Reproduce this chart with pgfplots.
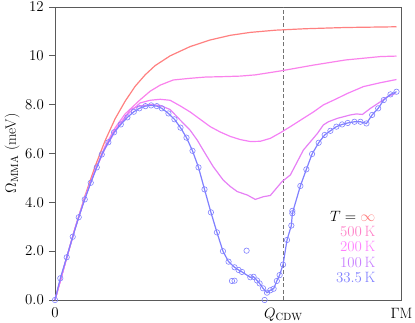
\RequirePackage{fix-cm}
\documentclass[border=0pt]{standalone}
\usepackage{fontspec}
\usepackage{pgfplots}
\pgfplotsset{compat=1.18}
\definecolor{cinf}{RGB}{255,128,128}
\definecolor{cfive}{RGB}{255,128,200}
\definecolor{ctwo}{RGB}{255,128,255}
\definecolor{cone}{RGB}{200,128,255}
\definecolor{lfive}{RGB}{250,130,235}
\definecolor{ltwo}{RGB}{245,128,245}
\definecolor{lone}{RGB}{230,128,245}
\definecolor{cblue}{RGB}{128,128,255}
\definecolor{spine}{RGB}{90,90,90}
\pgfplotstableread{
x y
0 0
5.3 0.89
11.7 1.75
17.7 2.59
23.7 3.39
29.7 4.12
35.7 4.80
41.7 5.43
46.7 5.96
53.3 6.46
59 6.87
65.7 7.19
72.3 7.48
78.7 7.71
84.3 7.85
90.3 7.94
96 7.97
101.7 7.94
106.7 7.85
113.3 7.64
119.3 7.40
125.3 7.06
131.3 6.65
137.3 6.11
143.3 5.43
149.3 4.53
155.7 3.59
161.7 2.77
167.7 2.00
173.3 1.57
179.3 1.34
183.3 1.23
186.7 1.15
195 0.93
198.3 0.95
201.7 0.80
204.3 0.68
207.7 0.48
211.7 0.30
215 0.40
218.3 0.46
221.5 0.78
224.3 1.02
227.7 1.45
231.7 2.46
236 3.05
237 3.55
245 4.67
251 5.35
256.7 5.98
263.3 6.44
269.3 6.76
275 6.93
281 7.10
286.7 7.19
292.3 7.25
299 7.30
305 7.30
311 7.23
316.7 7.58
322.7 7.85
328.3 8.19
335 8.42
341 8.53
}\blueline
\pgfplotstableread{
x y
176.7 0.78
179.3 0.79
191.3 2.02
209.3 0.00
237 3.65
}\blueextra
\pgfplotstableread{
x y
0 0
10 1.49
20 2.93
30 4.27
40 5.47
50 6.52
60 7.42
70 8.14
80 8.75
90 9.22
100 9.60
115 10.00
135 10.38
155 10.65
175 10.84
195 10.96
220 11.05
250 11.11
290 11.16
341 11.19
}\tinf
\pgfplotstableread{
x y
0 0
10 1.49
20 2.93
30 4.20
40 5.30
50 6.30
60 7.05
70 7.62
85 8.20
95 8.55
105 8.80
118 9.01
135 9.08
150 9.13
170 9.15
185 9.17
200 9.22
225 9.38
258 9.62
290 9.83
325 9.97
341 9.99
}\tfive
\pgfplotstableread{
x y
0 0
10 1.49
20 2.93
30 4.20
40 5.30
50 6.25
60 6.95
70 7.50
78 7.82
85 8.07
95 8.18
105 8.22
115 8.18
125 7.95
135 7.70
145 7.40
155 7.10
165 6.88
175 6.70
185 6.57
195 6.49
205 6.50
215 6.62
225 6.85
235 7.10
248 7.44
258 7.70
268 7.99
280 8.22
292 8.46
308 8.74
325 8.90
341 9.03
}\ttwo
\pgfplotstableread{
x y
0 0
10 1.49
20 2.93
30 4.20
40 5.30
50 6.20
60 6.90
70 7.45
75 7.80
85 7.95
95 8.00
105 7.97
115 7.80
125 7.37
135 6.95
142 6.55
150 6.00
158 5.46
168 4.91
175 4.65
182 4.44
192 4.30
200 4.12
208 4.23
215 4.28
226.7 4.85
235 5.12
248 6.14
262 6.82
268 7.17
273 7.30
282 7.44
295 7.58
301 7.62
307 7.60
315 7.85
325 8.12
332 8.33
340 8.46
}\tone
\begin{document}
\fontsize{15}{18}\selectfont
\begin{tikzpicture}
\path[use as bounding box] (-55bp,-23bp) rectangle (360bp,300bp);
\begin{axis}[
  scale only axis, width=346.5bp, height=293bp,
  xmin=0, xmax=346, ymin=0, ymax=12,
  axis line style={spine, line width=0.9bp},
  xtick={0,228,346},
  xticklabels={$0$,$Q_{\mathrm{CDW}}$,$\Gamma\mathrm{M}$},
  xtick style={draw=none},
  ytick={0,2,4,6,8,10,12},
  yticklabels={$0.0$,$2.0$,$4.0$,$6.0$,$8.0$,$10$,$12$},
  ytick pos=left, tick align=outside, major tick length=6bp,
  ytick style={spine, line width=0.9bp},
  tick label style={font=\fontsize{15}{18}\selectfont},
  xticklabel style={yshift=3bp},
  ylabel={$\Omega_{\mathrm{MMA}}$ (meV)},
  label style={font=\fontsize{15}{18}\selectfont},
  every axis y label/.style={at={(axis description cs:-0.124,0.5)}, rotate=90, anchor=center},
  clip=false,
]
\draw[black!55, dash pattern=on 4bp off 2.5bp, line width=0.7bp] (axis cs:228,0) -- (axis cs:228,12);
\addplot[cinf, line width=1.2bp, no marks] table {\tinf};
\addplot[lfive, line width=1.2bp, no marks] table {\tfive};
\addplot[ltwo, line width=1.2bp, no marks] table {\ttwo};
\addplot[lone, line width=1.2bp, no marks] table {\tone};
\addplot[cblue, line width=1.2bp, no marks] table {\blueline};
\addplot[cblue, only marks, mark=o, mark size=2.7bp, mark options={line width=0.6bp}] table {\blueline};
\addplot[cblue, only marks, mark=o, mark size=2.7bp, mark options={line width=0.6bp}] table {\blueextra};
\node[anchor=east] at (axis cs:325,3.41) {$T=\textcolor{cinf}{\infty}$};
\node[anchor=east, text=cfive] at (axis cs:325,2.83) {$500\,\mathrm{K}$};
\node[anchor=east, text=ctwo] at (axis cs:325,2.19) {$200\,\mathrm{K}$};
\node[anchor=east, text=cone] at (axis cs:325,1.56) {$100\,\mathrm{K}$};
\node[anchor=east, text=cblue] at (axis cs:325,0.94) {$33.5\,\mathrm{K}$};
\end{axis}
\begin{axis}[
  scale only axis, width=346.5bp, height=293bp,
  xmin=0, xmax=346, ymin=0, ymax=12,
  axis lines=none,
  ytick={2,4,6,8,10},
  ytick pos=right, tick align=inside, major tick length=6bp,
  yticklabels={}, xtick=\empty,
  ytick style={spine, line width=0.9bp},
]
\end{axis}
\end{tikzpicture}
\end{document}
